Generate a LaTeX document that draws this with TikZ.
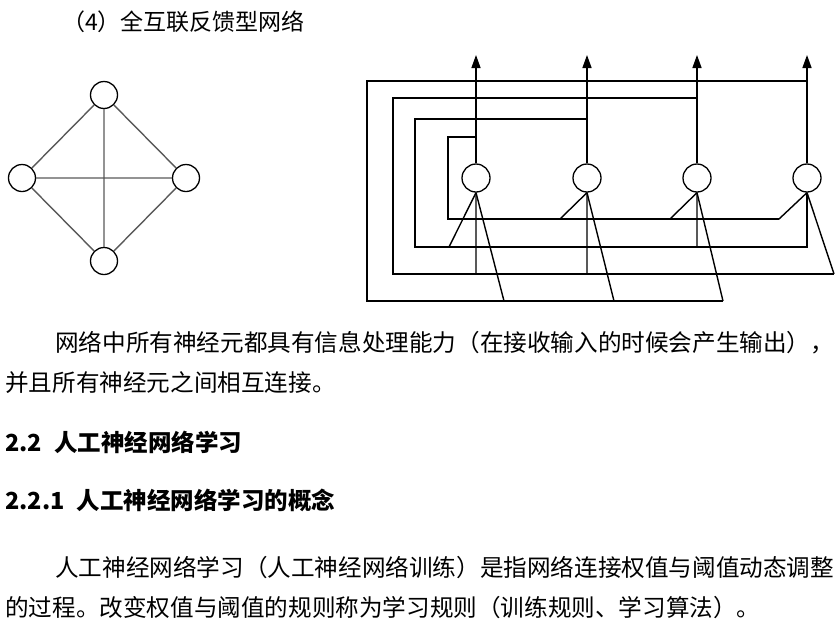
\documentclass[tikz,border=0pt]{standalone}
\usepackage{fontspec}
\newfontfamily\cjk{Noto Sans CJK SC}
\usetikzlibrary{arrows.meta}
\begin{document}
\begin{tikzpicture}[x=1pt,y=-1pt,
  neu/.style={circle,draw,line width=1.3pt,minimum size=28pt,inner sep=0pt,fill=white},
  wire/.style={line width=1.4pt},
  txt/.style={anchor=west,inner sep=0pt,font=\cjk\fontsize{23.6}{23.6}\selectfont},
  hd/.style={anchor=west,inner sep=0pt,font=\cjk\bfseries\fontsize{23.5}{23.5}\selectfont}]
\useasboundingbox (0,0) rectangle (840,643);
% left diamond
\node[neu,minimum size=27pt] (t) at (104,95) {};
\node[neu,minimum size=27pt] (l) at (22,178) {};
\node[neu,minimum size=27pt] (r) at (186,178) {};
\node[neu,minimum size=27pt] (b) at (104,261) {};
\draw[wire,gray!70!black] (t)--(l) (t)--(r) (t)--(b) (l)--(r) (l)--(b) (r)--(b);
% right network
\foreach \i/\x in {1/476,2/587,3/697,4/807}{
  \node[neu] (n\i) at (\x,178) {};
  \coordinate (o\i) at (\x,55);
  \draw[wire,-{Triangle[length=13pt,width=9pt]}] (n\i.north) -- (o\i);
}
% loop from n4
\draw[wire] (807,81) -- (367,81) -- (367,301) -- (723,301);
\draw[wire] (n1.south) -- (504,301) (n2.south) -- (614,301) (n3.south) -- (723,301);
% loop from n3
\draw[wire] (697,98) -- (393,98) -- (393,274) -- (834,274);
\draw[wire] (n1.south) -- (476,274) (n2.south) -- (587,274) (n4.south) -- (834,274);
% loop from n2
\draw[wire] (587,119) -- (415,119) -- (415,247) -- (807,247) -- (n4.south);
\draw[wire] (n1.south) -- (449,247) (n3.south) -- (697,247);
% loop from n1
\draw[wire] (476,137) -- (448,137) -- (448,219) -- (779,219);
\draw[wire] (n2.south) -- (560,219) (n3.south) -- (670,219) (n4.south) -- (779,219);
% text
\node[txt,font=\cjk\fontsize{23}{23}\selectfont] (title) at (62,22) {（4）全互联反馈型网络};
\node[txt] (p1) at (55,343) {网络中所有神经元都具有信息处理能力（在接收输入的时候会产生输出），};
\node[txt] (p2) at (5,383) {并且所有神经元之间相互连接。};
\node[hd] (h1) at (5,442) {2.2\hspace{12pt}人工神经网络学习};
\node[hd] (h2) at (5,500) {2.2.1\hspace{12pt}人工神经网络学习的概念};
\node[txt] (p3) at (55,568) {人工神经网络学习（人工神经网络训练）是指网络连接权值与阈值动态调整};
\node[txt] (p4) at (5,608) {的过程。改变权值与阈值的规则称为学习规则（训练规则、学习算法）。};
\end{tikzpicture}
\end{document}
